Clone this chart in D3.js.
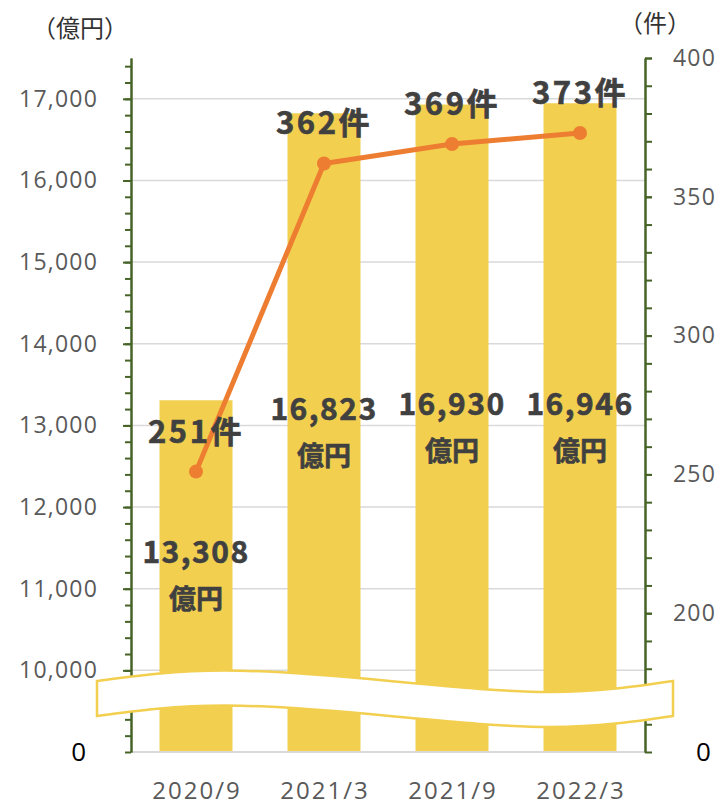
<!DOCTYPE html>
<html>
<head>
<meta charset="utf-8">
<script src="https://cdn.jsdelivr.net/npm/d3@7"></script>
<style>
	body { margin: 0; background: #fff; }
</style>
</head>
<body>
<script>
// data
const periods = ["2020/9", "2021/3", "2021/9", "2022/3"];
const amounts = [13308, 16823, 16930, 16946]; // 億円 (bars, left axis)
const counts = [251, 362, 369, 373]; // 件 (line, right axis)
const leftMajor = [10000, 11000, 12000, 13000, 14000, 15000, 16000, 17000];
const rightMajor = [200, 250, 300, 350, 400];

const svgWidth = 720;
const svgHeight = 806;
const plot = { left: 131, right: 645, top: 58, bottom: 752 };

const gold = "#F2CF4F";
const orange = "#ED7D31";
const axisGreen = "#466428";
const tickGrey = "#595959";
const labelDark = "#404040";

const svg = d3
	.select("body")
	.append("svg")
	.attr("width", svgWidth)
	.attr("height", svgHeight);

// scales (both axes are broken: bottom value is shown as "0")
const xScale = d3
	.scaleBand()
	.domain(periods)
	.range([plot.left + 1, plot.right - 1])
	.paddingInner(0.43)
	.paddingOuter(0.215);

const yLeft = d3.scaleLinear().domain([9000, 17500]).range([plot.bottom, plot.top]);
const yRight = d3.scaleLinear().domain([150, 400]).range([plot.bottom, plot.top]);

//=====
//gridlines
//=====
svg
	.selectAll(".grid")
	.data(leftMajor)
	.enter()
	.append("line")
	.attr("class", "grid")
	.attr("x1", plot.left)
	.attr("x2", plot.right)
	.attr("y1", (d) => yLeft(d))
	.attr("y2", (d) => yLeft(d))
	.attr("stroke", "#D9D9D9")
	.attr("stroke-width", 1.5);

//=====
//bars
//=====
svg
	.selectAll(".bar")
	.data(amounts)
	.enter()
	.append("rect")
	.attr("class", "bar")
	.attr("x", (d, i) => xScale(periods[i]))
	.attr("y", (d) => yLeft(d))
	.attr("width", xScale.bandwidth())
	.attr("height", (d) => yLeft(9000) - yLeft(d))
	.attr("fill", gold);

// category axis line
svg
	.append("line")
	.attr("x1", plot.left)
	.attr("x2", plot.right)
	.attr("y1", yLeft(9000))
	.attr("y2", yLeft(9000))
	.attr("stroke", "#D9D9D9")
	.attr("stroke-width", 2);

//=====
//axes
//=====
function styleAxis(g) {
	g.attr("font-size", null).attr("font-family", null);
	g.selectAll("path, line").attr("stroke", axisGreen).attr("stroke-width", 2);
	g.selectAll("text")
		.attr("fill", tickGrey)
		.style("font-family", "'Open Sans', 'Noto Sans', sans-serif")
		.style("font-size", "23px")
		.style("letter-spacing", "1.2px");
}

// left minor ticks
svg
	.append("g")
	.attr("transform", `translate(${plot.left},0)`)
	.call(
		d3.axisLeft(yLeft)
			.tickValues(d3.range(9000, 17500, 200))
			.tickSize(6)
			.tickSizeOuter(0)
			.tickFormat("")
	)
	.call(styleAxis);

// left major ticks + labels
svg
	.append("g")
	.attr("transform", `translate(${plot.left},0)`)
	.call(
		d3.axisLeft(yLeft)
			.tickValues(leftMajor)
			.tickSize(8)
			.tickSizeOuter(0)
			.tickPadding(25)
			.tickFormat(d3.format(","))
	)
	.call(styleAxis);

// right minor ticks
svg
	.append("g")
	.attr("transform", `translate(${plot.right},0)`)
	.call(
		d3.axisRight(yRight)
			.tickValues(d3.range(150, 401, 10))
			.tickSize(7)
			.tickSizeOuter(0)
			.tickFormat("")
	)
	.call(styleAxis);

// right major labels
svg
	.append("g")
	.attr("transform", `translate(${plot.right},0)`)
	.call(
		d3.axisRight(yRight)
			.tickValues(rightMajor)
			.tickSize(7)
			.tickSizeOuter(0)
			.tickPadding(21)
	)
	.call(styleAxis);

// bottom axis labels
svg
	.append("g")
	.attr("transform", `translate(0,${plot.bottom})`)
	.call(d3.axisBottom(xScale).tickSize(0).tickPadding(30))
	.call((g) => g.select(".domain").remove())
	.call(styleAxis)
	.selectAll("text")
	.style("font-size", "24px")
	.style("letter-spacing", "2px")
	.attr("dx", "1px");

// broken-axis zero labels
svg
	.append("text")
	.attr("x", 86)
	.attr("y", yLeft(9000))
	.attr("dy", "0.35em")
	.attr("text-anchor", "end")
	.style("font-family", "'Open Sans', sans-serif")
	.style("font-size", "26px")
	.attr("fill", "#000")
	.text("0");

svg
	.append("text")
	.attr("x", 696)
	.attr("y", yRight(150))
	.attr("dy", "0.35em")
	.style("font-family", "'Open Sans', sans-serif")
	.style("font-size", "26px")
	.attr("fill", "#000")
	.text("0");

// axis unit titles
svg
	.append("text")
	.attr("x", 80)
	.attr("y", 37)
	.attr("text-anchor", "middle")
	.style("font-family", "'Noto Sans CJK JP', sans-serif")
	.style("font-size", "24px")
	.attr("fill", "#333")
	.text("（億円）");

svg
	.append("text")
	.attr("x", 655)
	.attr("y", 32)
	.attr("text-anchor", "middle")
	.style("font-family", "'Noto Sans CJK JP', sans-serif")
	.style("font-size", "24px")
	.attr("fill", "#333")
	.text("（件）");

//=====
//break marker (wave)
//=====
const wx0 = plot.left - 34;
const wx1 = plot.right + 28;
const wTop = [
	[wx0, 681],
	[225, 670.5],
	[390, 681],
	[551, 692],
	[wx1, 681],
];
const wBottom = wTop.map(([x, y]) => [x, y + 35]).reverse();
const waveLine = d3.line().curve(d3.curveNatural);
svg
	.append("path")
	.attr("d", waveLine(wTop) + "L" + waveLine(wBottom).slice(1) + "Z")
	.attr("fill", "#fff")
	.attr("stroke", gold)
	.attr("stroke-width", 2.5);

//=====
//count line
//=====
const cx = (i) => xScale(periods[i]) + xScale.bandwidth() / 2;
const line = d3
	.line()
	.x((d, i) => cx(i))
	.y((d) => yRight(d));

svg
	.append("path")
	.datum(counts)
	.attr("d", line)
	.attr("stroke", orange)
	.attr("stroke-width", 5)
	.attr("fill", "none");

svg
	.selectAll(".dot")
	.data(counts)
	.enter()
	.append("circle")
	.attr("class", "dot")
	.attr("cx", (d, i) => cx(i))
	.attr("cy", (d) => yRight(d))
	.attr("r", 7)
	.attr("fill", orange);

//=====
//data labels
//=====
const labelFont = "'Noto Sans CJK JP', 'Noto Sans', sans-serif";

svg
	.selectAll(".count-label")
	.data(counts)
	.enter()
	.append("text")
	.attr("class", "count-label")
	.attr("x", (d, i) => cx(i))
	.attr("y", (d) => yRight(d) - 29)
	.attr("text-anchor", "middle")
	.style("font-family", labelFont)
	.style("font-weight", 700)
	.style("font-size", "31px")
	.style("letter-spacing", "2.5px")
	.attr("fill", labelDark)
	.attr("stroke", labelDark)
	.attr("stroke-width", 0.6)
	.text((d) => d + "件");

const amountLabels = svg
	.selectAll(".amount-label")
	.data(amounts)
	.enter()
	.append("g")
	.attr("class", "amount-label")
	.attr("transform", (d, i) => `translate(${cx(i)},${(yLeft(d) + yLeft(9000)) / 2})`)
	.style("font-family", labelFont)
	.style("font-weight", 700)
	.attr("text-anchor", "middle")
	.attr("fill", labelDark)
	.attr("stroke", labelDark)
	.attr("stroke-width", 0.6);

amountLabels
	.append("text")
	.attr("y", -13)
	.style("font-size", "30px")
	.style("letter-spacing", "1.5px")
	.text((d) => d3.format(",")(d));

amountLabels
	.append("text")
	.attr("y", 33)
	.style("font-size", "27px")
	.text("億円");
</script>
</body>
</html>
